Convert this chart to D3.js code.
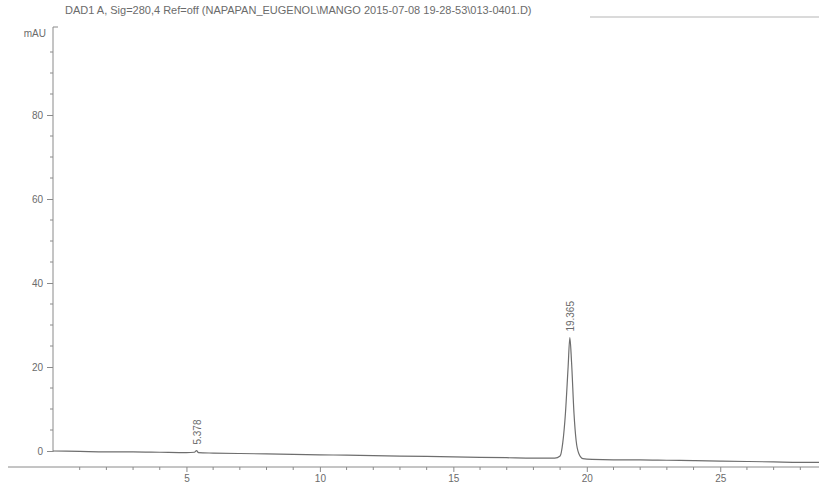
<!DOCTYPE html>
<html><head><meta charset="utf-8">
<script src="https://cdn.jsdelivr.net/npm/d3@7"></script>
<style>body{margin:0;background:#fff}svg{display:block}</style>
</head><body>
<svg id="c" width="819" height="485"></svg>
<script>
const title = "DAD1 A, Sig=280,4 Ref=off (NAPAPAN_EUGENOL\\MANGO 2015-07-08 19-28-53\\013-0401.D)";
const yUnit = "mAU";
const yTicks = [0, 20, 40, 60, 80];
const xTicks = [5, 10, 15, 20, 25];
const traceTime = [0, 1, 2, 3, 4, 5, 5.3, 5.378, 5.45, 6, 7, 8, 9, 10, 11, 12, 13, 14, 15, 16, 17, 18, 18.8, 19.0, 19.1, 19.2, 19.3, 19.365, 19.43, 19.52, 19.6, 19.7, 19.85, 20.2, 21, 22, 23, 24, 25, 26, 27, 28, 28.7];
const traceSignal = [0, -0.1, -0.2, -0.2, -0.3, -0.4, -0.3, 0.1, -0.4, -0.5, -0.6, -0.7, -0.8, -0.9, -1.0, -1.1, -1.2, -1.3, -1.4, -1.5, -1.6, -1.7, -1.7, -1.2, 2, 9, 20, 27, 21, 9, 2.5, -0.6, -1.8, -2.0, -2.1, -2.1, -2.2, -2.3, -2.4, -2.5, -2.6, -2.7, -2.7];
const peakLabels = [{t: 5.378, text: "5.378"}, {t: 19.365, text: "19.365"}];

const svg = d3.select("#c");
const x = d3.scaleLinear().domain([0, 28.7]).range([53, 819]);
const y = d3.scaleLinear().domain([0, 100]).range([451, 31]);
const txt = "#6b6b6b", ax = "#8a8a8a";
const font = "Liberation Sans, Arial, sans-serif";

// title
svg.append("text").attr("x", 65).attr("y", 14).attr("font-family", font).attr("font-size", 11)
  .attr("fill", txt).text(title);
svg.append("line").attr("x1", 590).attr("x2", 819).attr("y1", 17).attr("y2", 17).attr("stroke", "#b5b5b5");

// y axis
const yAxis = svg.append("g").attr("transform", "translate(53,0)")
  .call(d3.axisLeft(y).tickValues(yTicks).tickSize(6).tickPadding(4));
yAxis.select(".domain").remove();
yAxis.selectAll("line").attr("stroke", ax);
yAxis.selectAll("text").attr("fill", txt).attr("font-family", font).attr("font-size", 10);
svg.append("line").attr("x1", 53).attr("x2", 53).attr("y1", 27).attr("y2", 452).attr("stroke", ax);
svg.append("line").attr("x1", 53).attr("x2", 58).attr("y1", 27).attr("y2", 27).attr("stroke", ax);
const yMinor = d3.range(5, 100, 5).filter(v => v % 20 !== 0);
svg.selectAll(".ym").data(yMinor).join("line").attr("x1", 50).attr("x2", 53)
  .attr("y1", d => y(d)).attr("y2", d => y(d)).attr("stroke", ax);
svg.append("text").attr("x", 46).attr("y", 37).attr("text-anchor", "end").attr("font-family", font)
  .attr("font-size", 10).attr("fill", txt).text(yUnit);

// x axis
const xAxisY = 467;
const xAxis = svg.append("g").attr("transform", `translate(0,${xAxisY})`)
  .call(d3.axisBottom(x).tickValues(xTicks).tickSize(5).tickPadding(3).tickFormat(d3.format("d")));
xAxis.select(".domain").remove();
xAxis.selectAll("line").attr("stroke", ax);
xAxis.selectAll("text").attr("fill", txt).attr("font-family", font).attr("font-size", 10);
svg.append("line").attr("x1", 8).attr("x2", 819).attr("y1", xAxisY).attr("y2", xAxisY).attr("stroke", ax);
const xMinor = d3.range(1, 29, 1).filter(v => v % 5 !== 0);
svg.selectAll(".xm").data(xMinor).join("line").attr("x1", d => x(d)).attr("x2", d => x(d))
  .attr("y1", xAxisY).attr("y2", xAxisY + 3).attr("stroke", ax);

// trace
const pts = traceTime.map((t, i) => [t, traceSignal[i]]);
svg.append("path").datum(pts)
  .attr("d", d3.line().x(d => x(d[0])).y(d => y(d[1])).curve(d3.curveMonotoneX))
  .attr("fill", "none").attr("stroke", "#6e6e6e").attr("stroke-width", 1.2);

// peak labels
const peakY = t => {
  let best = 0;
  traceTime.forEach((tt, i) => { if (Math.abs(tt - t) < Math.abs(traceTime[best] - t)) best = i; });
  return traceSignal[best];
};
svg.selectAll(".pl").data(peakLabels).join("text")
  .attr("transform", d => `translate(${x(d.t) + 4},${y(peakY(d.t)) - 6}) rotate(-90)`)
  .attr("font-family", font).attr("font-size", 10).attr("fill", txt).text(d => d.text);
</script>
</body></html>
